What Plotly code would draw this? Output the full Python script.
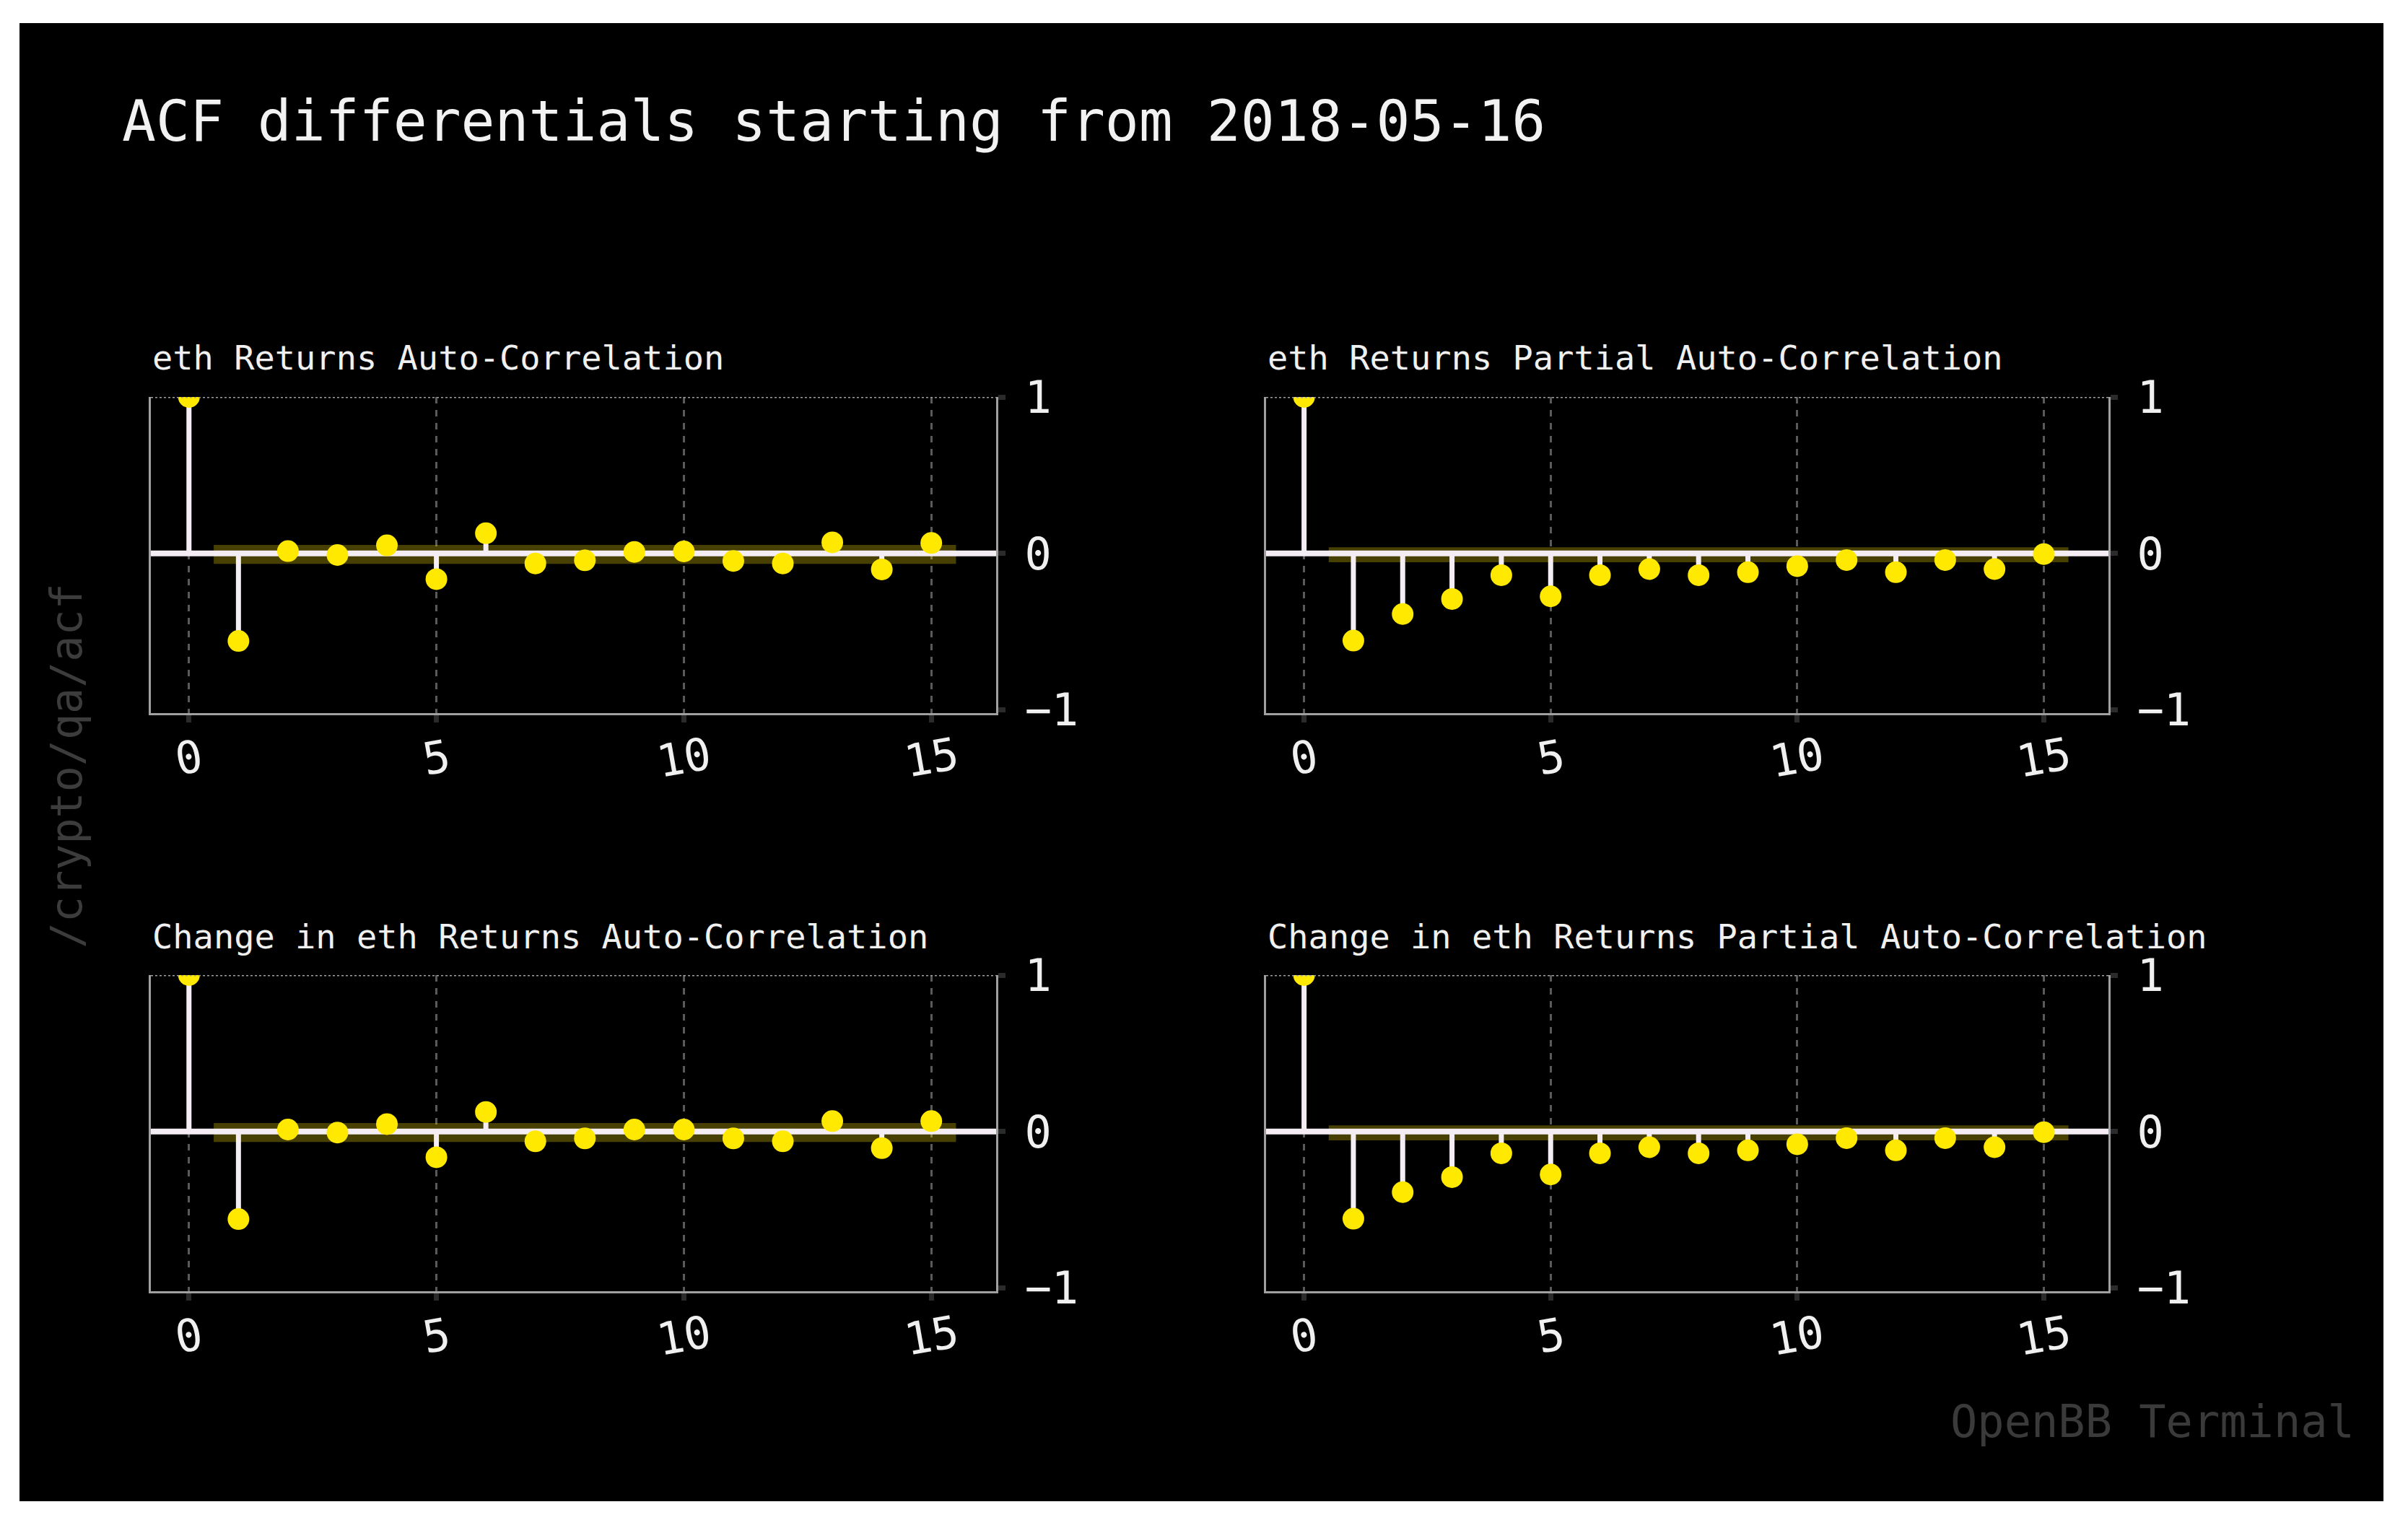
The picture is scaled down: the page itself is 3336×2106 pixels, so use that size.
import plotly.graph_objects as go

# ---------------- data ----------------
lags = list(range(16))
acf_returns = [1.0, -0.559, 0.015, -0.010, 0.052, -0.164, 0.129, -0.064,
               -0.044, 0.010, 0.013, -0.048, -0.064, 0.071, -0.102, 0.067]
pacf_returns = [1.0, -0.557, -0.387, -0.291, -0.139, -0.274, -0.139, -0.100,
                -0.139, -0.120, -0.081, -0.042, -0.120, -0.042, -0.100, -0.004]
acf_change = [1.0, -0.559, 0.013, -0.006, 0.048, -0.164, 0.125, -0.062,
              -0.044, 0.013, 0.013, -0.044, -0.062, 0.067, -0.106, 0.067]
pacf_change = [1.0, -0.557, -0.387, -0.291, -0.139, -0.274, -0.139, -0.100,
               -0.139, -0.120, -0.081, -0.042, -0.120, -0.042, -0.100, -0.004]

band_lags = [0.5, 15.5]
acf_band = [-0.066, 0.054]      # lower, upper confidence bound
pacf_band = [-0.056, 0.040]

panel_titles = [
    "eth Returns Auto-Correlation",
    "eth Returns Partial Auto-Correlation",
    "Change in eth Returns Auto-Correlation",
    "Change in eth Returns Partial Auto-Correlation",
]
main_title = "ACF differentials starting from 2018-05-16"
xtick_vals = [0, 5, 10, 15]
xtick_text = ["0", "5", "10", "15"]
ytick_vals = [-1, 0, 1]
ytick_text = ["\u22121", "0", "1"]
x_range = [-0.77, 16.31]
y_range = [-1.02, 1.0]

# ---------------- style ----------------
W, H = 3336, 2106
FONT = "DejaVu Sans Mono"
YELLOW = "#ffe900"
STEM = "#f4eef4"
AXCOL = "#a0a0a0"
GRIDCOL = "#5a5a5a"

xdom_left = [209 / W, 1380 / W]
xdom_right = [1754 / W, 2921 / W]
ydom_top = [1 - 988 / H, 1 - 550 / H]
ydom_bot = [1 - 1789 / H, 1 - 1351 / H]

panels = [
    dict(vals=acf_returns, band=acf_band, title=panel_titles[0], xd=xdom_left, yd=ydom_top),
    dict(vals=pacf_returns, band=pacf_band, title=panel_titles[1], xd=xdom_right, yd=ydom_top),
    dict(vals=acf_change, band=acf_band, title=panel_titles[2], xd=xdom_left, yd=ydom_bot),
    dict(vals=pacf_change, band=pacf_band, title=panel_titles[3], xd=xdom_right, yd=ydom_bot),
]

fig = go.Figure()
annotations = []
shapes = [
    dict(type="rect", xref="paper", yref="paper",
         x0=27 / W, x1=3302 / W, y0=1 - 2080 / H, y1=1 - 32 / H,
         fillcolor="black", line=dict(width=0), layer="below"),
]
layout_axes = {}

for i, p in enumerate(panels, start=1):
    xa = f"x{i}" if i > 1 else "x"
    ya = f"y{i}" if i > 1 else "y"
    lo, hi = p["band"]
    # confidence band
    fig.add_trace(go.Scatter(
        x=[band_lags[0], band_lags[1], band_lags[1], band_lags[0]],
        y=[lo, lo, hi, hi], fill="toself", mode="lines",
        fillcolor="rgba(255,230,0,0.28)", line=dict(width=0),
        xaxis=xa, yaxis=ya, hoverinfo="skip", showlegend=False))
    # zero line
    fig.add_trace(go.Scatter(
        x=x_range, y=[0, 0], mode="lines", line=dict(color=STEM, width=8),
        xaxis=xa, yaxis=ya, hoverinfo="skip", showlegend=False))
    # stems
    sx, sy = [], []
    for l, v in zip(lags, p["vals"]):
        sx += [l, l, None]
        sy += [0, v, None]
    fig.add_trace(go.Scatter(
        x=sx, y=sy, mode="lines", line=dict(color=STEM, width=7),
        xaxis=xa, yaxis=ya, hoverinfo="skip", showlegend=False))
    # markers
    fig.add_trace(go.Scatter(
        x=lags, y=p["vals"], mode="markers",
        marker=dict(color=YELLOW, size=30, line=dict(width=0)),
        xaxis=xa, yaxis=ya, showlegend=False))

    layout_axes["xaxis" + (str(i) if i > 1 else "")] = dict(
        domain=p["xd"], range=x_range, anchor=ya, automargin=False,
        tickvals=xtick_vals, showticklabels=False,
        showgrid=True, gridcolor=GRIDCOL, griddash="dash", gridwidth=3,
        zeroline=False, showline=True, linecolor=AXCOL, linewidth=3, mirror=False,
        ticks="outside", ticklen=10, tickwidth=7, tickcolor="#2b2b2b",
    )
    layout_axes["yaxis" + (str(i) if i > 1 else "")] = dict(
        domain=p["yd"], range=y_range, anchor=xa, side="right", automargin=False,
        tickvals=ytick_vals, ticktext=ytick_text,
        tickfont=dict(family=FONT, size=62, color="#f0f0f0"),
        showgrid=False, zeroline=False,
        showline=True, linecolor=AXCOL, linewidth=3, mirror=True,
        ticks="outside", ticklen=10, tickwidth=7, tickcolor="#2b2b2b",
        ticklabelstandoff=14,
    )
    # top dashed border
    shapes.append(dict(type="line", xref=f"{xa} domain", yref=ya,
                       x0=0, x1=1, y0=y_range[1], y1=y_range[1],
                       line=dict(color=AXCOL, width=3, dash="dot"), layer="above"))
    # x tick labels (slightly rotated, centered)
    for tv, tt in zip(xtick_vals, xtick_text):
        annotations.append(dict(
            x=tv, xref=xa, y=0, yref=f"{ya} domain", text=tt, showarrow=False,
            textangle=-10, xanchor="center", yanchor="middle", yshift=-61,
            font=dict(family=FONT, size=62, color="#f0f0f0")))
    # panel title
    annotations.append(dict(
        x=0, xref=f"{xa} domain", y=1, yref=f"{ya} domain", yshift=54,
        text=p["title"], showarrow=False, xanchor="left", yanchor="middle",
        font=dict(family=FONT, size=47, color="#f0f0f0")))

# main title
annotations.append(dict(
    x=167 / W, y=1 - 168 / H, xref="paper", yref="paper", text=main_title,
    showarrow=False, xanchor="left", yanchor="middle",
    font=dict(family=FONT, size=78, color="#f2f2f2")))
# watermarks
annotations.append(dict(
    x=92 / W, y=1 - 1061 / H, xref="paper", yref="paper", text="/crypto/qa/acf",
    showarrow=False, textangle=-90, xanchor="center", yanchor="middle",
    font=dict(family=FONT, size=60, color="#3c3c3c")))
annotations.append(dict(
    x=3264 / W, y=1 - 1969 / H, xref="paper", yref="paper", text="OpenBB Terminal",
    showarrow=False, xanchor="right", yanchor="middle",
    font=dict(family=FONT, size=62, color="#3a3a3a")))

fig.update_layout(
    width=W, height=H, autosize=False,
    margin=dict(l=0, r=0, t=0, b=0, pad=0, autoexpand=False),
    paper_bgcolor="white", plot_bgcolor="black",
    showlegend=False, shapes=shapes, annotations=annotations,
    font=dict(family=FONT, color="#f0f0f0"),
    **layout_axes,
)

fig.write_html("out.html", post_script="document.body.style.margin='0';",
               config={"displayModeBar": False})
